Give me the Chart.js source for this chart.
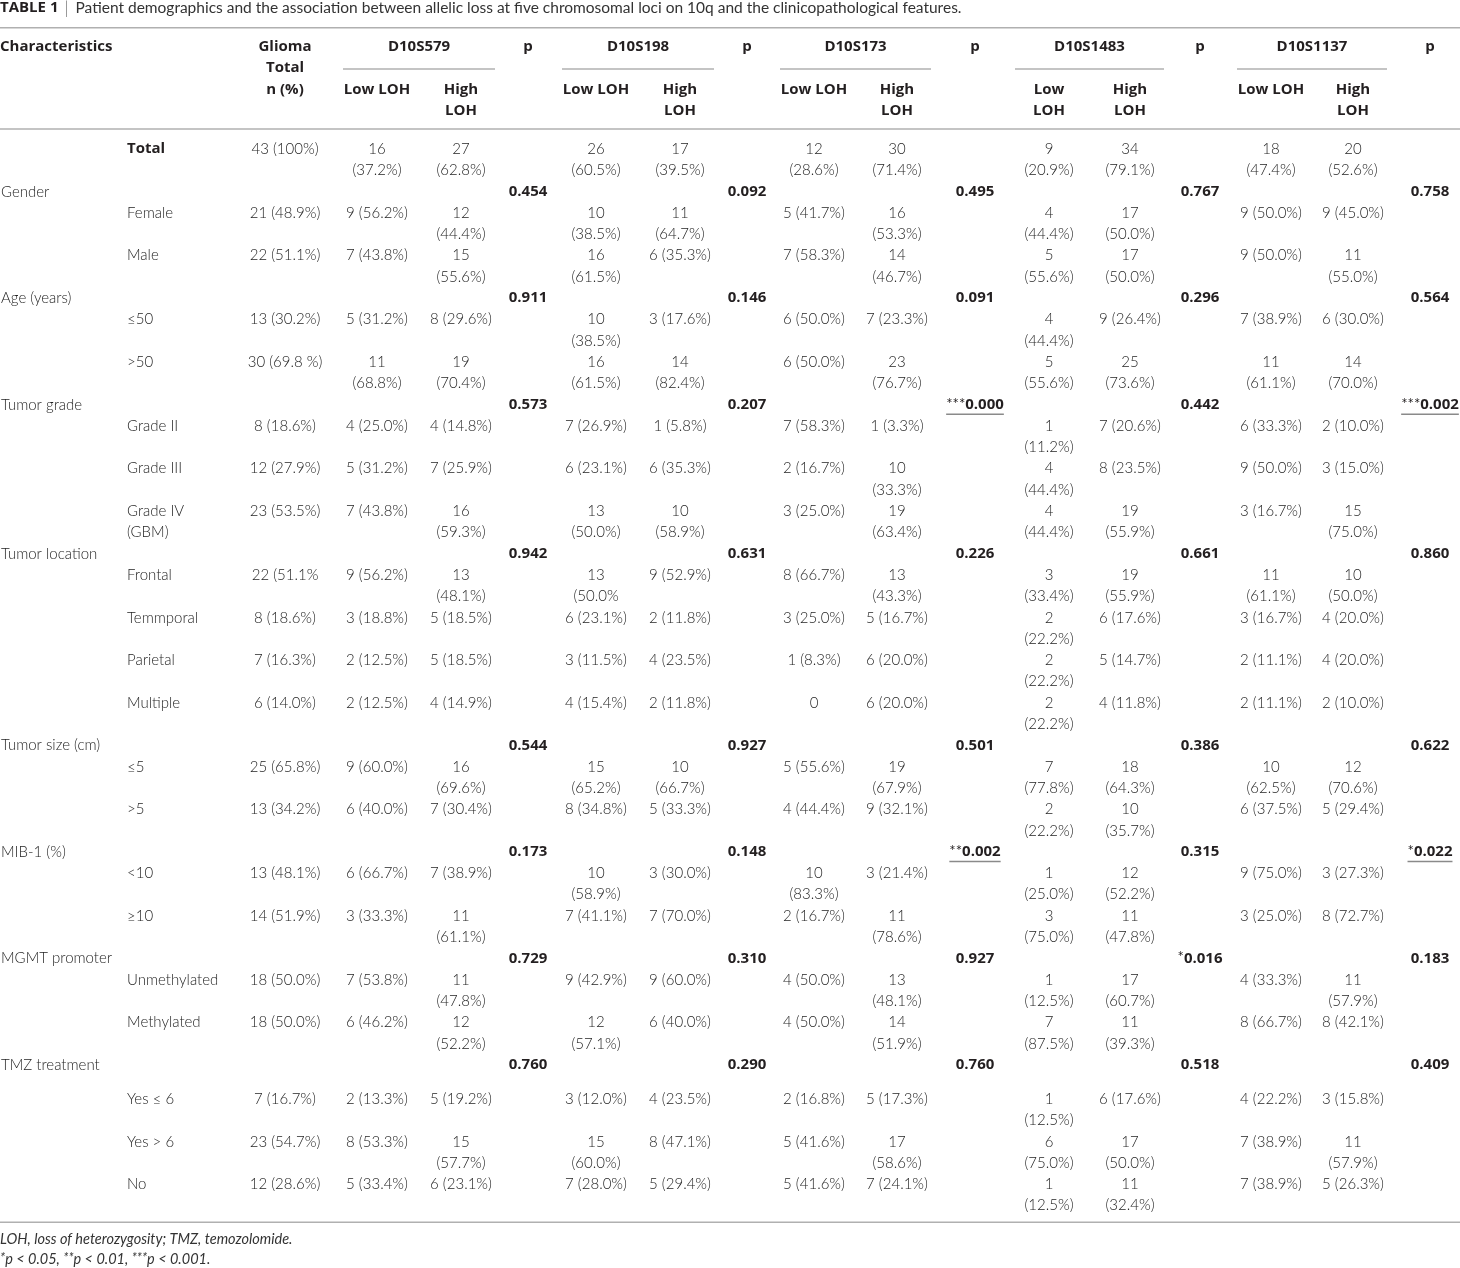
<!DOCTYPE html>
<html><head><meta charset="utf-8">
<script src="https://cdn.jsdelivr.net/npm/chart.js@4.4.1/dist/chart.umd.min.js"></script>
<style>html,body{margin:0;padding:0;background:#fff}#wrap{position:relative;width:1460px;height:1268px}</style>
</head><body><div id="wrap"><canvas id="c"></canvas></div>
<script>
// ---------------- DATA ----------------
const tableLabel = 'TABLE 1';
const tableTitle = 'Patient demographics and the association between allelic loss at five chromosomal loci on 10q and the clinicopathological features.';
const footnotes = ['LOH, loss of heterozygosity; TMZ, temozolomide.', '*p < 0.05, **p < 0.01, ***p < 0.001.'];

const headCharacteristics = 'Characteristics';
const headGlioma = ['Glioma', 'Total', 'n (%)'];
const headP = 'p';
const loci = ['D10S579', 'D10S198', 'D10S173', 'D10S1483', 'D10S1137'];
const headLow = [['Low LOH'], ['Low LOH'], ['Low LOH'], ['Low', 'LOH'], ['Low LOH']];
const headHigh = [['High', 'LOH'], ['High', 'LOH'], ['High', 'LOH'], ['High', 'LOH'], ['High', 'LOH']];

const totalLabel = 'Total';
const categories = ['Gender', 'Age (years)', 'Tumor grade', 'Tumor location', 'Tumor size (cm)', 'MIB-1 (%)', 'MGMT promoter', 'TMZ treatment'];
const subgroups = [
  ['Female', 'Male'],
  ['≤50', '>50'],
  ['Grade II', 'Grade III', 'Grade IV (GBM)'],
  ['Frontal', 'Temmporal', 'Parietal', 'Multiple'],
  ['≤5', '>5'],
  ['<10', '≥10'],
  ['Unmethylated', 'Methylated'],
  ['Yes ≤ 6', 'Yes > 6', 'No']
];

// values per row: Total, then every subgroup in order
const gliomaTotal = ['43 (100%)', '21 (48.9%)', '22 (51.1%)', '13 (30.2%)', '30 (69.8 %)', '8 (18.6%)', '12 (27.9%)', '23 (53.5%)', '22 (51.1%', '8 (18.6%)', '7 (16.3%)', '6 (14.0%)', '25 (65.8%)', '13 (34.2%)', '13 (48.1%)', '14 (51.9%)', '18 (50.0%)', '18 (50.0%)', '7 (16.7%)', '23 (54.7%)', '12 (28.6%)'];

const lowD10S579 = ['16 (37.2%)', '9 (56.2%)', '7 (43.8%)', '5 (31.2%)', '11 (68.8%)', '4 (25.0%)', '5 (31.2%)', '7 (43.8%)', '9 (56.2%)', '3 (18.8%)', '2 (12.5%)', '2 (12.5%)', '9 (60.0%)', '6 (40.0%)', '6 (66.7%)', '3 (33.3%)', '7 (53.8%)', '6 (46.2%)', '2 (13.3%)', '8 (53.3%)', '5 (33.4%)'];
const highD10S579 = ['27 (62.8%)', '12 (44.4%)', '15 (55.6%)', '8 (29.6%)', '19 (70.4%)', '4 (14.8%)', '7 (25.9%)', '16 (59.3%)', '13 (48.1%)', '5 (18.5%)', '5 (18.5%)', '4 (14.9%)', '16 (69.6%)', '7 (30.4%)', '7 (38.9%)', '11 (61.1%)', '11 (47.8%)', '12 (52.2%)', '5 (19.2%)', '15 (57.7%)', '6 (23.1%)'];
const pD10S579 = ['0.454', '0.911', '0.573', '0.942', '0.544', '0.173', '0.729', '0.760'];

const lowD10S198 = ['26 (60.5%)', '10 (38.5%)', '16 (61.5%)', '10 (38.5%)', '16 (61.5%)', '7 (26.9%)', '6 (23.1%)', '13 (50.0%)', '13 (50.0%', '6 (23.1%)', '3 (11.5%)', '4 (15.4%)', '15 (65.2%)', '8 (34.8%)', '10 (58.9%)', '7 (41.1%)', '9 (42.9%)', '12 (57.1%)', '3 (12.0%)', '15 (60.0%)', '7 (28.0%)'];
const highD10S198 = ['17 (39.5%)', '11 (64.7%)', '6 (35.3%)', '3 (17.6%)', '14 (82.4%)', '1 (5.8%)', '6 (35.3%)', '10 (58.9%)', '9 (52.9%)', '2 (11.8%)', '4 (23.5%)', '2 (11.8%)', '10 (66.7%)', '5 (33.3%)', '3 (30.0%)', '7 (70.0%)', '9 (60.0%)', '6 (40.0%)', '4 (23.5%)', '8 (47.1%)', '5 (29.4%)'];
const pD10S198 = ['0.092', '0.146', '0.207', '0.631', '0.927', '0.148', '0.310', '0.290'];

const lowD10S173 = ['12 (28.6%)', '5 (41.7%)', '7 (58.3%)', '6 (50.0%)', '6 (50.0%)', '7 (58.3%)', '2 (16.7%)', '3 (25.0%)', '8 (66.7%)', '3 (25.0%)', '1 (8.3%)', '0', '5 (55.6%)', '4 (44.4%)', '10 (83.3%)', '2 (16.7%)', '4 (50.0%)', '4 (50.0%)', '2 (16.8%)', '5 (41.6%)', '5 (41.6%)'];
const highD10S173 = ['30 (71.4%)', '16 (53.3%)', '14 (46.7%)', '7 (23.3%)', '23 (76.7%)', '1 (3.3%)', '10 (33.3%)', '19 (63.4%)', '13 (43.3%)', '5 (16.7%)', '6 (20.0%)', '6 (20.0%)', '19 (67.9%)', '9 (32.1%)', '3 (21.4%)', '11 (78.6%)', '13 (48.1%)', '14 (51.9%)', '5 (17.3%)', '17 (58.6%)', '7 (24.1%)'];
const pD10S173 = ['0.495', '0.091', '***0.000', '0.226', '0.501', '**0.002', '0.927', '0.760'];

const lowD10S1483 = ['9 (20.9%)', '4 (44.4%)', '5 (55.6%)', '4 (44.4%)', '5 (55.6%)', '1 (11.2%)', '4 (44.4%)', '4 (44.4%)', '3 (33.4%)', '2 (22.2%)', '2 (22.2%)', '2 (22.2%)', '7 (77.8%)', '2 (22.2%)', '1 (25.0%)', '3 (75.0%)', '1 (12.5%)', '7 (87.5%)', '1 (12.5%)', '6 (75.0%)', '1 (12.5%)'];
const highD10S1483 = ['34 (79.1%)', '17 (50.0%)', '17 (50.0%)', '9 (26.4%)', '25 (73.6%)', '7 (20.6%)', '8 (23.5%)', '19 (55.9%)', '19 (55.9%)', '6 (17.6%)', '5 (14.7%)', '4 (11.8%)', '18 (64.3%)', '10 (35.7%)', '12 (52.2%)', '11 (47.8%)', '17 (60.7%)', '11 (39.3%)', '6 (17.6%)', '17 (50.0%)', '11 (32.4%)'];
const pD10S1483 = ['0.767', '0.296', '0.442', '0.661', '0.386', '0.315', '*0.016', '0.518'];

const lowD10S1137 = ['18 (47.4%)', '9 (50.0%)', '9 (50.0%)', '7 (38.9%)', '11 (61.1%)', '6 (33.3%)', '9 (50.0%)', '3 (16.7%)', '11 (61.1%)', '3 (16.7%)', '2 (11.1%)', '2 (11.1%)', '10 (62.5%)', '6 (37.5%)', '9 (75.0%)', '3 (25.0%)', '4 (33.3%)', '8 (66.7%)', '4 (22.2%)', '7 (38.9%)', '7 (38.9%)'];
const highD10S1137 = ['20 (52.6%)', '9 (45.0%)', '11 (55.0%)', '6 (30.0%)', '14 (70.0%)', '2 (10.0%)', '3 (15.0%)', '15 (75.0%)', '10 (50.0%)', '4 (20.0%)', '4 (20.0%)', '2 (10.0%)', '12 (70.6%)', '5 (29.4%)', '3 (27.3%)', '8 (72.7%)', '11 (57.9%)', '8 (42.1%)', '3 (15.8%)', '11 (57.9%)', '5 (26.3%)'];
const pD10S1137 = ['0.758', '0.564', '***0.002', '0.860', '0.622', '*0.022', '0.183', '0.409'];

const lowValues = [lowD10S579, lowD10S198, lowD10S173, lowD10S1483, lowD10S1137];
const highValues = [highD10S579, highD10S198, highD10S173, highD10S1483, highD10S1137];
const pValues = [pD10S579, pD10S198, pD10S173, pD10S1483, pD10S1137];

// ---------------- LAYOUT / STYLE ----------------
const W = 1460;
const colLabel = 1, colSub = 127, colGlioma = 285;
const colLow = [377, 596, 814, 1049, 1271];
const colHigh = [461, 680, 897, 1130, 1353];
const colP = [528, 747, 975, 1200, 1430];
const ruleExt = 34;
// y axis in "text line" units (0 = first body line)
const yMin = -7, yMax = 52.53;
const yTitle = -6.62, yTopRule = -5.7, yHead = -4.8, ySubRule = -3.76, yHeadRule = -0.94;
const yBottomRule = 50.38, yFoot = [51.17, 52.11];
const extraAfterCategory = {7: 0.6};
const underlinedP = {'2-2': true, '4-2': true, '2-5': true, '4-5': true};

const FONT = 'Lato, "Open Sans", sans-serif';
const BFONT = '"Open Sans", Lato, sans-serif';
const styles = {
  title:     {font: `700 15px ${BFONT}`, color: '#231f20', align: 'left'},
  titleSep:  {font: `300 17px ${FONT}`, color: '#666', align: 'left'},
  titleText: {font: `400 15.5px ${FONT}`, color: '#333', align: 'left'},
  headLeft:  {font: `700 15px ${BFONT}`, color: '#231f20', align: 'left'},
  head:      {font: `700 15px ${BFONT}`, color: '#231f20', align: 'center'},
  label:     {font: `300 15px ${FONT}`, color: '#1e1e1e', align: 'left'},
  subBold:   {font: `700 15px ${BFONT}`, color: '#231f20', align: 'left'},
  cell:      {font: `300 15px ${FONT}`, color: '#1e1e1e', align: 'center'},
  pval:      {font: `700 15px ${BFONT}`, color: '#231f20', align: 'center', sup: `400 15px ${FONT}`},
  foot:      {font: `italic 400 14.5px ${FONT}`, color: '#333', align: 'left', sup: `italic 400 13px ${FONT}`}
};
const ruleColor = '#b0b0b0';

// ---------------- BUILD POINTS ----------------
const mctx = document.createElement('canvas').getContext('2d');
function tw(t, font) { mctx.font = font; return mctx.measureText(t).width; }
function wrap(t, font, maxW) {
  const words = String(t).split(' '); const out = []; let cur = '';
  for (const w of words) {
    const test = cur ? cur + ' ' + w : w;
    if (!cur || tw(test, font) <= maxW) cur = test; else { out.push(cur); cur = w; }
  }
  if (cur) out.push(cur);
  return out;
}
const cf = styles.cell.font;
const wNormal = tw('0 (00.0%)', cf) + 4;
const wNarrow = tw('(00.0%)', cf) + 4;
const lowMax = [wNormal, wNormal, wNormal, wNarrow, wNormal];
const subMax = 98;

const pts = {};
Object.keys(styles).forEach(k => pts[k] = []);
function put(key, x, y, lines, extra) {
  lines.forEach((t, k) => pts[key].push(Object.assign({x: x, y: y + k, t: t}, extra || {})));
}

// title
put('title', 0, yTitle, [tableLabel]);
const sepX = tw(tableLabel, styles.title.font) + 6;
put('titleSep', sepX, yTitle, ['|']);
put('titleText', sepX + tw('|', styles.titleSep.font) + 7, yTitle, [tableTitle]);

// header
put('headLeft', 0, yHead, [headCharacteristics]);
put('head', colGlioma, yHead, headGlioma);
loci.forEach((name, i) => {
  put('head', (colLow[i] + colHigh[i]) / 2, yHead, [name]);
  put('head', colP[i], yHead, [headP]);
  put('head', colLow[i], yHead + 2, headLow[i]);
  put('head', colHigh[i], yHead + 2, headHigh[i]);
});

// body
let line = 0;
function bodyRow(labelKey, label, idx) {
  const cells = [];
  cells.push([colSub, wrap(label, styles.label.font, subMax), labelKey]);
  cells.push([colGlioma, [gliomaTotal[idx]], 'cell']);
  loci.forEach((_, i) => {
    cells.push([colLow[i], wrap(lowValues[i][idx], cf, lowMax[i]), 'cell']);
    cells.push([colHigh[i], wrap(highValues[i][idx], cf, wNormal), 'cell']);
  });
  let n = 1;
  cells.forEach(c => { put(c[2], c[0], line, c[1]); n = Math.max(n, c[1].length); });
  line += n;
}
let rowIdx = 0;
bodyRow('subBold', totalLabel, rowIdx++);
categories.forEach((cat, c) => {
  put('label', colLabel, line, [cat]);
  loci.forEach((_, i) => put('pval', colP[i], line, [pValues[i][c]], {u: !!underlinedP[i + '-' + c]}));
  line += 1 + (extraAfterCategory[c] || 0);
  subgroups[c].forEach(s => bodyRow('label', s, rowIdx++));
});

// footnotes
footnotes.forEach((f, k) => put('foot', 0, yFoot[k], [f]));

// ---------------- DRAW ----------------
function segs(t) {
  const out = []; const re = /(\*+)|([^*]+)/g; let m;
  while ((m = re.exec(t))) out.push({s: m[0], sup: !!m[1]});
  return out;
}
function drawRich(ctx, t, x, y, st, underline) {
  const parts = segs(t);
  let total = 0;
  parts.forEach(p => { ctx.font = p.sup ? (st.sup || st.font) : st.font; p.w = ctx.measureText(p.s).width; total += p.w; });
  let cx = st.align === 'center' ? x - total / 2 : x;
  const x0 = cx;
  ctx.fillStyle = st.color; ctx.textAlign = 'left'; ctx.textBaseline = 'middle';
  parts.forEach(p => {
    ctx.font = p.sup ? (st.sup || st.font) : st.font;
    ctx.fillText(p.s, cx, p.sup ? y - 1 : y);
    cx += p.w;
  });
  if (underline) {
    ctx.strokeStyle = '#8a8a8a'; ctx.lineWidth = 1.5;
    ctx.beginPath(); ctx.moveTo(x0, y + 9.5); ctx.lineTo(cx, y + 9.5); ctx.stroke();
  }
}

const tablePlugin = {
  id: 'tablePlugin',
  afterDatasetsDraw(chart) {
    const {ctx, scales: {x, y}} = chart;
    ctx.save();
    ctx.strokeStyle = ruleColor; ctx.lineWidth = 1.5;
    const hline = (a, b, yy) => {
      const py = y.getPixelForValue(yy);
      ctx.beginPath(); ctx.moveTo(x.getPixelForValue(a), py); ctx.lineTo(x.getPixelForValue(b), py); ctx.stroke();
    };
    [yTopRule, yHeadRule, yBottomRule].forEach(v => hline(0, W, v));
    loci.forEach((_, i) => hline(colLow[i] - ruleExt, colHigh[i] + ruleExt, ySubRule));
    chart.data.datasets.forEach((ds, i) => {
      const meta = chart.getDatasetMeta(i);
      const st = styles[ds.label];
      meta.data.forEach((el, j) => drawRich(ctx, ds.data[j].t, el.x, el.y, st, ds.data[j].u));
    });
    ctx.restore();
  }
};

new Chart(document.getElementById('c'), {
  type: 'scatter',
  data: {
    datasets: Object.keys(pts).map(k => ({label: k, data: pts[k], pointRadius: 0, pointHoverRadius: 0, showLine: false}))
  },
  options: {
    responsive: true, maintainAspectRatio: false, animation: false, events: [],
    layout: {padding: 0},
    plugins: {legend: {display: false}, tooltip: {enabled: false}, title: {display: false}},
    scales: {
      x: {type: 'linear', min: 0, max: W, display: false},
      y: {type: 'linear', min: yMin, max: yMax, reverse: true, display: false}
    }
  },
  plugins: [tablePlugin]
});
</script></body></html>
